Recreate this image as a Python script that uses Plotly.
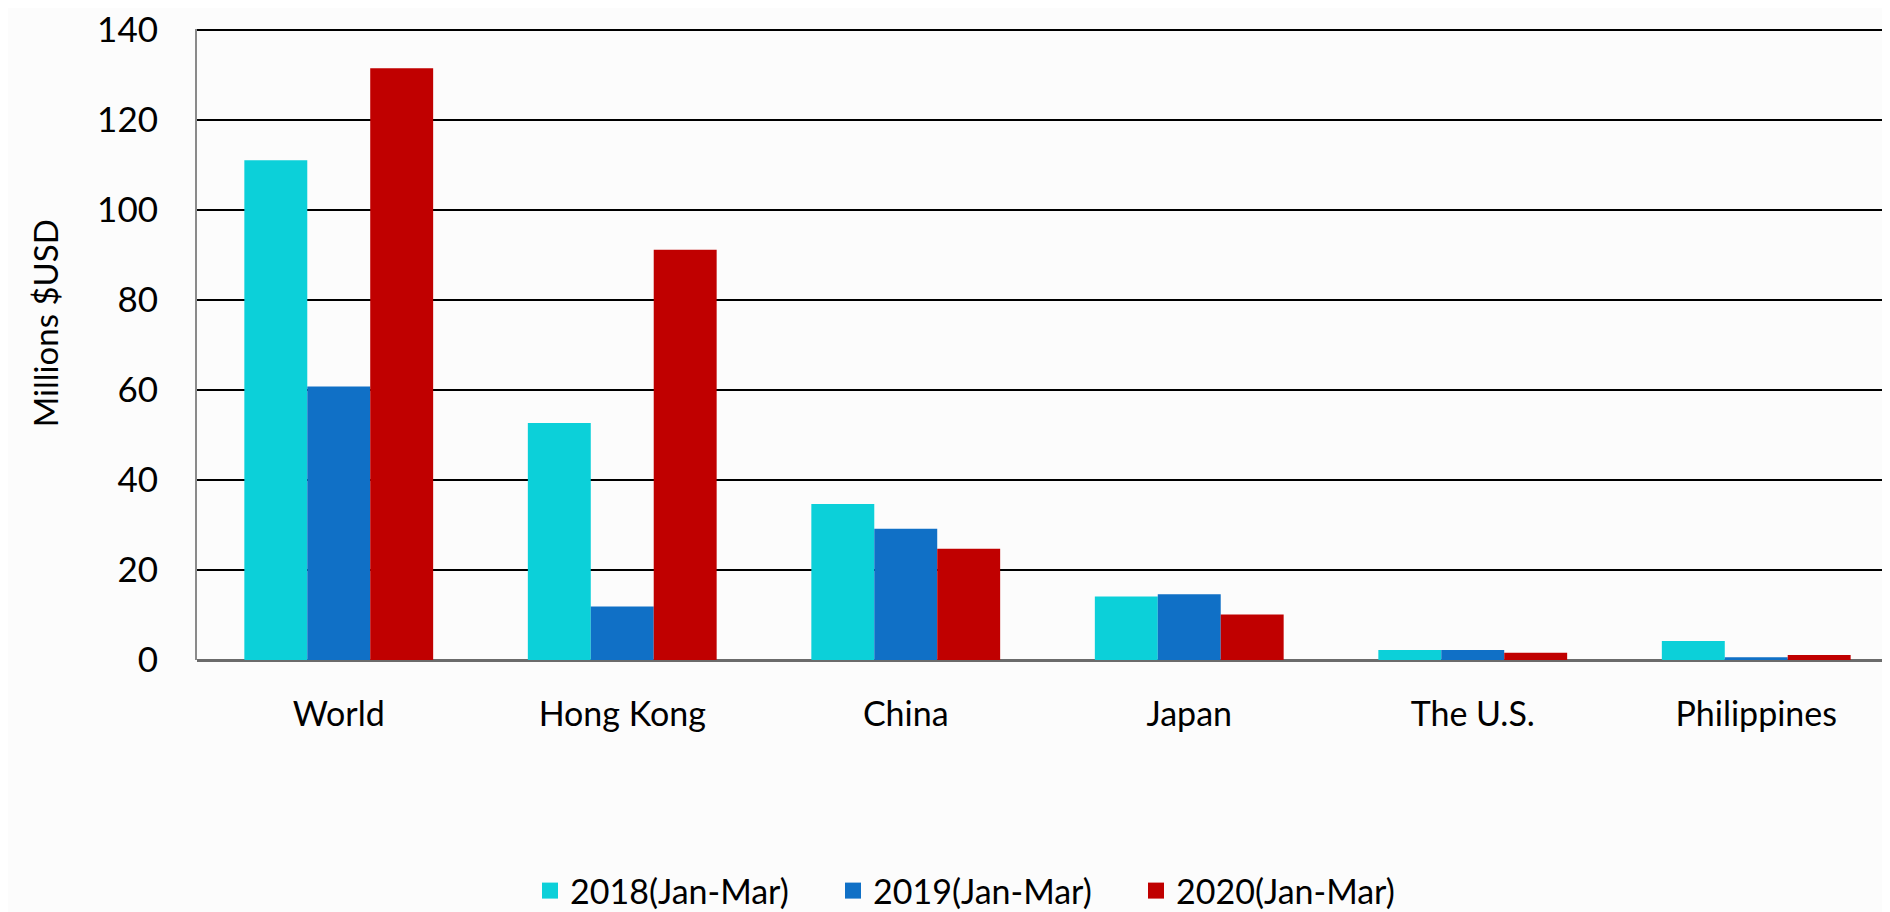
import plotly.graph_objects as go

categories = ["World", "Hong Kong", "China", "Japan", "The U.S.", "Philippines"]
series_names = ["2018(Jan-Mar)", "2019(Jan-Mar)", "2020(Jan-Mar)"]
values_2018 = [111.1, 52.7, 34.7, 14.1, 2.2, 4.2]
values_2019 = [60.8, 11.9, 29.2, 14.6, 2.2, 0.6]
values_2020 = [131.5, 91.2, 24.7, 10.1, 1.6, 1.1]
colors = ["#0CD0D9", "#1070C6", "#C00000"]
y_ticks = [0, 20, 40, 60, 80, 100, 120, 140]

FONT = "Lato"
fig = go.Figure()
for name, vals, col in zip(series_names, [values_2018, values_2019, values_2020], colors):
    fig.add_trace(go.Bar(x=categories, y=vals, name=name, showlegend=False,
                         marker=dict(color=col, line=dict(width=0))))
# legend entries with larger square swatches
for name, col in zip(series_names, colors):
    fig.add_trace(go.Scatter(x=[None], y=[None], mode="markers", name=name,
                             marker=dict(symbol="square", size=22, color=col)))

W, H = 1890, 912
L, R, T, B = 189, 0, 21, 252
fig.update_layout(
    width=W, height=H,
    margin=dict(l=L, r=R, t=T, b=B),
    barmode="group", bargap=0.334, bargroupgap=0,
    paper_bgcolor="#FCFCFC", plot_bgcolor="#FCFCFC",
    font=dict(family=FONT, size=33, color="#000000"),
    showlegend=True,
    legend=dict(orientation="h", x=(522 - L) / (W - L - R), xanchor="left",
                y=-0.367, yanchor="middle",
                font=dict(family=FONT, size=34, color="#000000"),
                entrywidth=258, entrywidthmode="pixels", itemsizing="trace",
                traceorder="normal", bgcolor="rgba(0,0,0,0)"),
    xaxis=dict(range=[-0.5, 5.5], showgrid=False, showline=False, zeroline=False,
               ticks="outside", ticklen=24, tickcolor="rgba(0,0,0,0)",
               tickfont=dict(family=FONT, size=34, color="#000000")),
    yaxis=dict(range=[0, 140.25], tickvals=y_ticks, showgrid=True, gridcolor="#000000", gridwidth=2,
               zeroline=True, zerolinecolor="#6B6B6B", zerolinewidth=3,
               showline=True, linecolor="#8A8A8A", linewidth=2,
               ticks="outside", ticklen=30, tickcolor="rgba(0,0,0,0)",
               ticklabeloverflow="allow",
               tickfont=dict(family=FONT, size=35, color="#000000")),
)
fig.add_annotation(text="Millions $USD", xref="paper", yref="paper",
                   x=(37 - L) / (W - L - R), y=(H - B - 319) / (H - B - T),
                   xanchor="center", yanchor="middle", textangle=-90, showarrow=False,
                   font=dict(family=FONT, size=33, color="#000000"))
fig.write_html("out.html")
